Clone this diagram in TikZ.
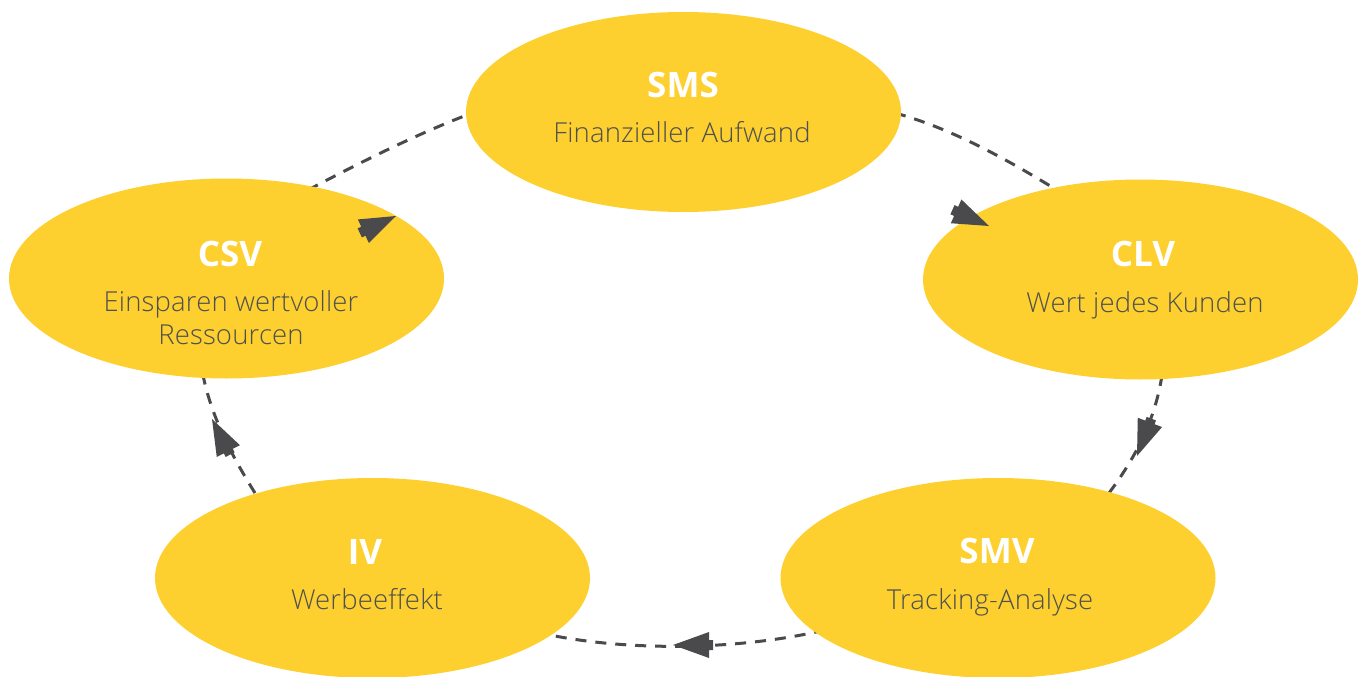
\documentclass[tikz,border=0pt]{standalone}
\usepackage{fontspec}
\usetikzlibrary{shapes.geometric}
\setmainfont{Open Sans}
\newfontfamily\lightfont[LetterSpace=0.6]{Open Sans Light}
\definecolor{ylw}{RGB}{253,208,47}
\definecolor{txtgray}{RGB}{80,80,80}
\definecolor{arrgray}{RGB}{74,74,76}
\begin{document}
\begin{tikzpicture}[x=1pt,y=-1pt,
  bubble/.style={ellipse, fill=ylw, minimum width=435pt, minimum height=200pt, inner sep=0pt},
  ttl/.style={anchor=base, text=white, font=\fontsize{35}{40}\selectfont\bfseries},
  body/.style={anchor=base, text=txtgray, font=\lightfont\fontsize{27.5}{33}\selectfont, align=center},
  conn/.style={draw=arrgray, line width=3pt, dash pattern=on 11pt off 9pt},
  tip/.style={fill=arrgray}]
\useasboundingbox (0,0) rectangle (1365,677);
% connector end points
\coordinate (a0) at (895,113);
\coordinate (a1) at (1060,192);
\coordinate (b0) at (1162,375);
\coordinate (b1) at (1109,493);
\coordinate (c0) at (825,630);
\coordinate (c1) at (545,634);
\coordinate (d0) at (255,493);
\coordinate (d1) at (203,375);
\coordinate (e0) at (308,190);
\coordinate (e1) at (472,113);
% dashed connectors
\draw[conn] (a0) .. controls (950,128) and (1005,158) .. (a1);
\draw[conn] (b0) .. controls (1156,415) and (1139,453) .. (b1);
\draw[conn] (c0) .. controls (740,650) and (630,652) .. (c1);
\draw[conn] (d0) .. controls (230,453) and (211,415) .. (d1);
\draw[conn] (e0) .. controls (363,161) and (417,134) .. (e1);
% bubbles
\node[bubble] (sms) at (683.5,112) {};
\node[bubble] (clv) at (1140.5,279.5) {};
\node[bubble] (csv) at (226.5,278.5) {};
\node[bubble] (iv)  at (372.5,578) {};
\node[bubble] (smv) at (998,578) {};
% texts
\node[ttl] (smst) at (683,97) {SMS};
\node[body] (smsb) at (682,142) {Finanzieller Aufwand};
\node[ttl] (clvt) at (1143,266) {CLV};
\node[body] (clvb) at (1145,312) {Wert jedes Kunden};
\node[ttl] (csvt) at (230,266) {CSV};
\node[body] (csvb) at (231,311) {Einsparen wertvoller};
\node[body] (csvc) at (231,344) {Ressourcen};
\node[ttl] (ivt) at (365,564) {IV};
\node[body] (ivb) at (367,609) {Werbeeffekt};
\node[ttl] (smvt) at (997,563) {SMV};
\node[body] (smvb) at (990,609) {Tracking-Analyse};
% arrow heads
\coordinate (t1) at (989,226);
\coordinate (t2) at (1137,456);
\coordinate (t3) at (673,645);
\coordinate (t4) at (212,419);
\coordinate (t5) at (396,216);
\foreach \p/\a in {t1/-24, t2/-111, t3/180, t4/117, t5/25}{
  \fill[tip, shift={(\p)}, rotate=\a] (0,0) -- (-36,-13) -- (-36,-5) -- (-40,-5) -- (-40,5) -- (-36,5) -- (-36,13) -- cycle;
}
\end{tikzpicture}
\end{document}
